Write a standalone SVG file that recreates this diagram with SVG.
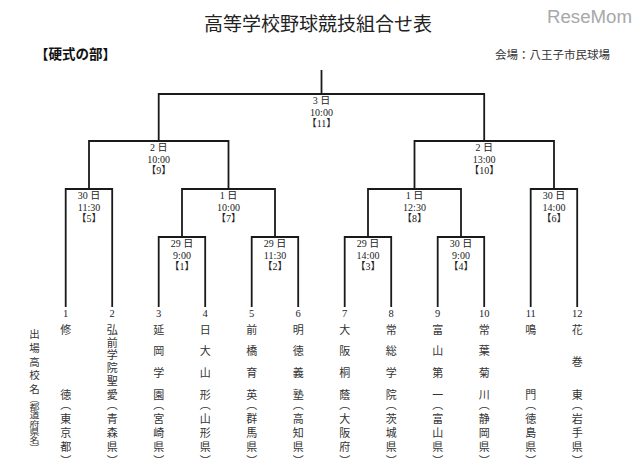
<svg xmlns="http://www.w3.org/2000/svg" width="640" height="467" viewBox="0 0 640 467">
<style>
.ln{fill:none;stroke:#1a1a1a;stroke-width:1.8;stroke-linejoin:miter}
.lbl{font-family:"Liberation Serif","Noto Sans CJK JP",serif;font-size:10px;text-anchor:middle;dominant-baseline:central;fill:#222}
.num{font-family:"Liberation Serif",serif;font-size:10.5px;text-anchor:middle;dominant-baseline:central;fill:#223}
.v{font-family:"Noto Sans CJK JP",sans-serif;font-size:11px;writing-mode:vertical-rl;fill:#333}
.n4{letter-spacing:10.5px}
.n6{letter-spacing:1.9px}
.n2{letter-spacing:53.5px}
.n3{letter-spacing:21.25px}
.pf{letter-spacing:3.1px}
.z{letter-spacing:0}
.side{font-family:"Noto Sans CJK JP",sans-serif;font-size:10.5px;writing-mode:vertical-rl;letter-spacing:3.25px;fill:#333}
.sidep{font-family:"Noto Sans CJK JP",sans-serif;font-size:10px;writing-mode:vertical-rl;fill:#333}
</style>
<rect width="640" height="467" fill="#fff"/>
<text x="318" y="31" font-family="'Noto Sans CJK JP',sans-serif" font-size="19" text-anchor="middle" fill="#222">高等学校野球競技組合せ表</text>
<text x="547" y="23" font-family="'Liberation Sans',sans-serif" font-size="18" fill="#a8a8a8" textLength="85" lengthAdjust="spacingAndGlyphs">ReseMom</text>
<text x="35" y="59" font-family="'Noto Sans CJK JP',sans-serif" font-size="13.5" font-weight="bold" fill="#111">【硬式の部】</text>
<text x="495" y="59" font-family="'Noto Sans CJK JP',sans-serif" font-size="11.5" fill="#333">会場：八王子市民球場</text>

<g id="connectors">
<path class="ln" d="M65.7,307 V189 H112.2 V307"/>
<path class="ln" d="M158.7,307 V237 H205.2 V307"/>
<path class="ln" d="M251.7,307 V237 H298.2 V307"/>
<path class="ln" d="M344.7,307 V237 H391.2 V307"/>
<path class="ln" d="M437.7,307 V237 H484.2 V307"/>
<path class="ln" d="M530.7,307 V189 H577.2 V307"/>
<path class="ln" d="M182,237 V189 H275 V237"/>
<path class="ln" d="M368,237 V189 H461 V237"/>
<path class="ln" d="M89,189 V141 H228.5 V189"/>
<path class="ln" d="M414.5,189 V141 H554 V189"/>
<path class="ln" d="M158.7,141 V94 H484.2 V141"/>
<path class="ln" d="M321.5,94 V70"/>
</g>

<g id="match-1"><text class="lbl" x="182" y="243">29 日</text><text class="lbl" x="182" y="255">9:00</text><text class="lbl" x="182" y="266.5">【1】</text></g>
<g id="match-2"><text class="lbl" x="275" y="243">29 日</text><text class="lbl" x="275" y="255">11:30</text><text class="lbl" x="275" y="266.5">【2】</text></g>
<g id="match-3"><text class="lbl" x="368" y="243">29 日</text><text class="lbl" x="368" y="255">14:00</text><text class="lbl" x="368" y="266.5">【3】</text></g>
<g id="match-4"><text class="lbl" x="461" y="243">30 日</text><text class="lbl" x="461" y="255">9:00</text><text class="lbl" x="461" y="266.5">【4】</text></g>
<g id="match-5"><text class="lbl" x="89" y="195">30 日</text><text class="lbl" x="89" y="207">11:30</text><text class="lbl" x="89" y="218.5">【5】</text></g>
<g id="match-6"><text class="lbl" x="554" y="195">30 日</text><text class="lbl" x="554" y="207">14:00</text><text class="lbl" x="554" y="218.5">【6】</text></g>
<g id="match-7"><text class="lbl" x="228.5" y="195">1 日</text><text class="lbl" x="228.5" y="207">10:00</text><text class="lbl" x="228.5" y="218.5">【7】</text></g>
<g id="match-8"><text class="lbl" x="414.5" y="195">1 日</text><text class="lbl" x="414.5" y="207">12:30</text><text class="lbl" x="414.5" y="218.5">【8】</text></g>
<g id="match-9"><text class="lbl" x="158.7" y="147">2 日</text><text class="lbl" x="158.7" y="159">10:00</text><text class="lbl" x="158.7" y="170.5">【9】</text></g>
<g id="match-10"><text class="lbl" x="484.2" y="147">2 日</text><text class="lbl" x="484.2" y="159">13:00</text><text class="lbl" x="484.2" y="170.5">【10】</text></g>
<g id="match-11"><text class="lbl" x="321.5" y="100">3 日</text><text class="lbl" x="321.5" y="112">10:00</text><text class="lbl" x="321.5" y="123">【11】</text></g>

<g id="side-label">
<text class="side" x="34.5" y="328.8">出場高校<tspan class="z">名</tspan></text>
<text class="sidep" transform="translate(34.5,394.6) scale(1,0.825)">（都道府県名）</text>
</g>

<g id="team-1"><text class="num" x="65.7" y="313">1</text><text class="v n2" x="65.7" y="324">修<tspan class="z">徳</tspan></text><text class="v pf" x="65.7" y="398.9">（東京都<tspan class="z">）</tspan></text></g>
<g id="team-2"><text class="num" x="112.2" y="313">2</text><text class="v n6" x="112.2" y="324">弘前学院聖<tspan class="z">愛</tspan></text><text class="v pf" x="112.2" y="398.9">（青森県<tspan class="z">）</tspan></text></g>
<g id="team-3"><text class="num" x="158.7" y="313">3</text><text class="v n4" x="158.7" y="324">延岡学<tspan class="z">園</tspan></text><text class="v pf" x="158.7" y="398.9">（宮崎県<tspan class="z">）</tspan></text></g>
<g id="team-4"><text class="num" x="205.2" y="313">4</text><text class="v n4" x="205.2" y="324">日大山<tspan class="z">形</tspan></text><text class="v pf" x="205.2" y="398.9">（山形県<tspan class="z">）</tspan></text></g>
<g id="team-5"><text class="num" x="251.7" y="313">5</text><text class="v n4" x="251.7" y="324">前橋育<tspan class="z">英</tspan></text><text class="v pf" x="251.7" y="398.9">（群馬県<tspan class="z">）</tspan></text></g>
<g id="team-6"><text class="num" x="298.2" y="313">6</text><text class="v n4" x="298.2" y="324">明徳義<tspan class="z">塾</tspan></text><text class="v pf" x="298.2" y="398.9">（高知県<tspan class="z">）</tspan></text></g>
<g id="team-7"><text class="num" x="344.7" y="313">7</text><text class="v n4" x="344.7" y="324">大阪桐<tspan class="z">蔭</tspan></text><text class="v pf" x="344.7" y="398.9">（大阪府<tspan class="z">）</tspan></text></g>
<g id="team-8"><text class="num" x="391.2" y="313">8</text><text class="v n4" x="391.2" y="324">常総学<tspan class="z">院</tspan></text><text class="v pf" x="391.2" y="398.9">（茨城県<tspan class="z">）</tspan></text></g>
<g id="team-9"><text class="num" x="437.7" y="313">9</text><text class="v n4" x="437.7" y="324">富山第<tspan class="z">一</tspan></text><text class="v pf" x="437.7" y="398.9">（富山県<tspan class="z">）</tspan></text></g>
<g id="team-10"><text class="num" x="484.2" y="313">10</text><text class="v n4" x="484.2" y="324">常葉菊<tspan class="z">川</tspan></text><text class="v pf" x="484.2" y="398.9">（静岡県<tspan class="z">）</tspan></text></g>
<g id="team-11"><text class="num" x="530.7" y="313">11</text><text class="v n2" x="530.7" y="324">鳴<tspan class="z">門</tspan></text><text class="v pf" x="530.7" y="398.9">（徳島県<tspan class="z">）</tspan></text></g>
<g id="team-12"><text class="num" x="577.2" y="313">12</text><text class="v n3" x="577.2" y="324">花巻<tspan class="z">東</tspan></text><text class="v pf" x="577.2" y="398.9">（岩手県<tspan class="z">）</tspan></text></g>
</svg>
